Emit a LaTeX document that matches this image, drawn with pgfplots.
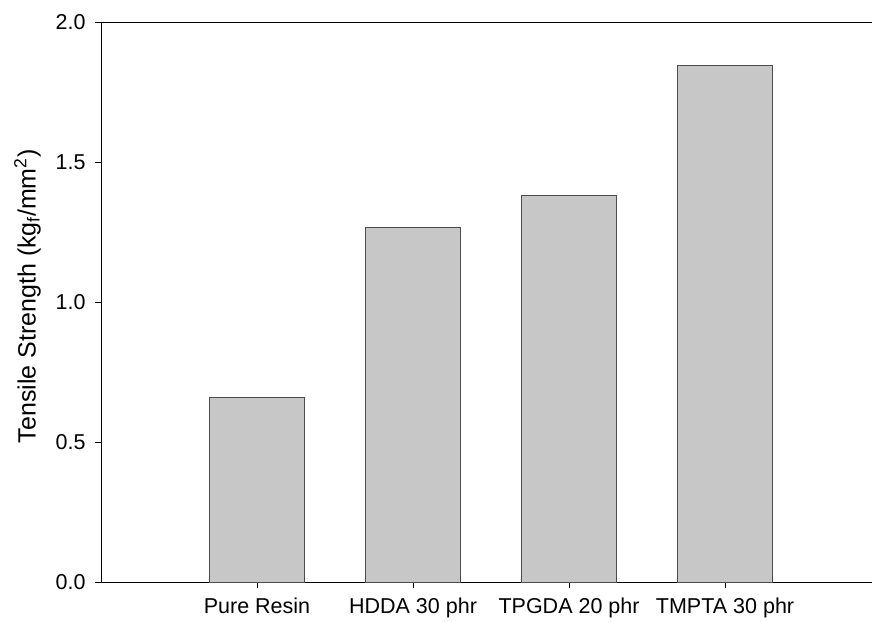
\documentclass[border=0pt]{standalone}
\usepackage{pgfplots}
\pgfplotsset{compat=1.18}
\usepackage{fontspec}
\setmainfont{Liberation Sans}
\begin{document}
\begin{tikzpicture}
\useasboundingbox (-101pt,-39pt) rectangle (771pt,582pt);
\begin{axis}[
  at={(0,0)}, anchor=south west,
  scale only axis, width=771pt, height=560pt,
  xmin=0, xmax=4.942, ymin=0, ymax=2.0,
  axis x line=bottom, axis y line=left,
  axis line style={-, black, line width=0.8pt},
  xtick={1,2,3,4},
  xticklabels={Pure Resin, HDDA 30 phr, TPGDA 20 phr, TMPTA 30 phr},
  ytick={0,0.5,1.0,1.5,2.0},
  yticklabel style={xshift=-6pt, /pgf/number format/fixed, /pgf/number format/fixed zerofill, /pgf/number format/precision=1},
  /pgf/number format/assume math mode=true,
  tick align=outside, major tick length=6pt,
  tick style={black, line width=0.6pt},
  ticklabel style={font=\fontsize{21.5}{25}\selectfont},
  ylabel={Tensile Strength (kg\textsubscript{f}/mm\textsuperscript{2})},
  every axis y label/.append style={font=\fontsize{25}{29}\selectfont, at={(ticklabel cs:0.51)}, yshift=8pt},
  xticklabel style={yshift=-6pt},
  after end axis/.code={\draw[line width=0.8pt] (rel axis cs:0,1) -- (rel axis cs:1,1);},
]
\addplot[ybar, bar width=95pt, fill=black!22, draw=black!70, line width=0.6pt]
  coordinates {(1,0.66) (2,1.265) (3,1.38) (4,1.845)};
\end{axis}
\end{tikzpicture}
\end{document}
